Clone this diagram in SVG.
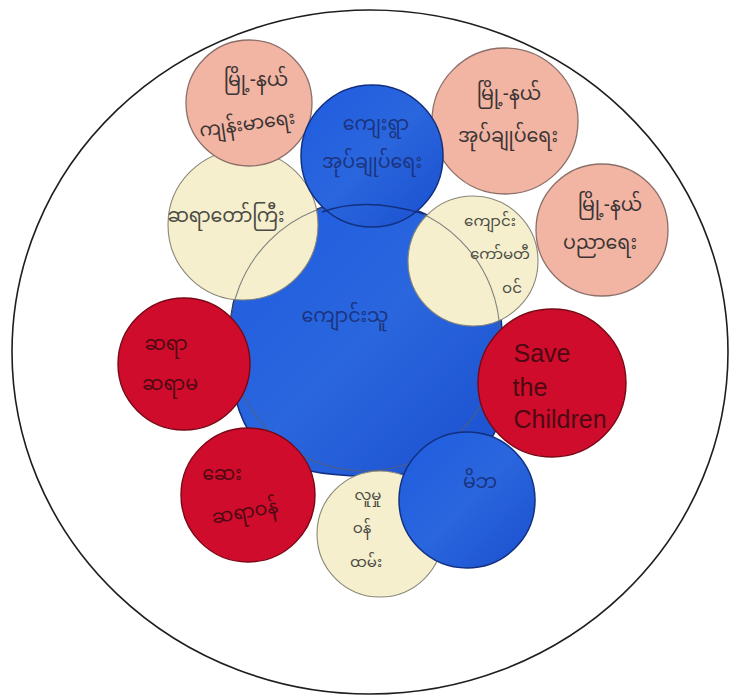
<svg xmlns="http://www.w3.org/2000/svg" width="730" height="698" viewBox="0 0 730 698">
<defs>
<style>
.outer{fill:none;stroke:#1e1e1e;stroke-width:1.6}
.pink{fill:#f2b5a3;stroke:#8d6f69;stroke-width:1.3}
.cream{fill:#f5efcd;stroke:#8a8778;stroke-width:1.1}
.blue{fill:url(#blueg);stroke:#12307f;stroke-width:1.5}
.red{fill:#cf0c2c;stroke:#7a0716;stroke-width:1.4}
.pencil{fill:none;stroke:#5b5f6a;stroke-width:1.1;opacity:0.75}
text{font-family:"Noto Sans Myanmar","Noto Sans","DejaVu Sans",sans-serif;font-size:19px;text-anchor:middle}
.sm{font-size:15px}
.tp{fill:#3b3434}
.tc{fill:#4a4a44}
.tb{fill:#1b3480}
.tr{fill:#4d0912}
.en{font-family:"Liberation Sans","DejaVu Sans",sans-serif;font-size:25px;fill:#4d0912}
</style>
<linearGradient id="blueg" x1="0" y1="0" x2="1" y2="1">
<stop offset="0" stop-color="#1f5ce0"/>
<stop offset="0.5" stop-color="#2a66dd"/>
<stop offset="1" stop-color="#1a4fcf"/>
</linearGradient>
</defs>
<rect width="730" height="698" fill="#ffffff"/>
<ellipse class="outer" cx="370" cy="352" rx="358" ry="342"/>

<g id="center-students">
<path class="blue" d="M365 201 C440 201 500 255 502 330 C506 390 510 430 475 455 C430 482 300 485 265 452 C235 422 228 380 230 330 C232 255 290 201 365 201 Z"/>
</g>
<g id="cream-left">
<circle class="cream" cx="243" cy="225" r="75"/>
<text class="tc" x="226" y="222">ဆရာတော်ကြီး</text>
</g>
<g id="cream-right">
<circle class="cream" cx="473" cy="261" r="65"/>
<text class="tc sm" x="490" y="226">ကျောင်း</text>
<text class="tc sm" x="500" y="259">ကော်မတီ</text>
<text class="tc sm" x="512" y="293">ဝင်</text>
</g>
<g id="connectors">
<circle class="pencil" cx="365" cy="336" r="135"/>
</g>
<g id="pink-health">
<circle class="pink" cx="249" cy="103" r="63"/>
<text class="tp" x="256" y="86">မြို့-နယ်</text>
<text class="tp" x="248" y="130" transform="rotate(-8 248 130)">ကျန်းမာရေး</text>
</g>
<g id="pink-admin">
<circle class="pink" cx="505" cy="121" r="73"/>
<text class="tp" x="509" y="100">မြို့-နယ်</text>
<text class="tp" x="508" y="142">အုပ်ချုပ်ရေး</text>
</g>
<g id="pink-education">
<circle class="pink" cx="602" cy="230" r="66"/>
<text class="tp" x="610" y="211">မြို့-နယ်</text>
<text class="tp" x="600" y="249">ပညာရေး</text>
</g>
<g id="blue-village">
<circle class="blue" cx="372" cy="156" r="71"/>
<text class="tb" x="376" y="130">ကျေးရွာ</text>
<text class="tb" x="372" y="168">အုပ်ချုပ်ရေး</text>
</g>
<g id="center-label">
<path d="M322 212 Q365 196 424 214" fill="none" stroke="#12307f" stroke-width="1.4"/>
<text class="tb" x="345" y="322">ကျောင်းသူ</text>
</g>
<g id="red-teachers">
<circle class="red" cx="184" cy="364" r="66"/>
<text class="tr" x="166" y="350">ဆရာ</text>
<text class="tr" x="170" y="390">ဆရာမ</text>
</g>
<g id="red-savethechildren">
<circle class="red" cx="552" cy="383" r="74"/>
<text class="en" x="542" y="362">Save</text>
<text class="en" x="530" y="396">the</text>
<text class="en" x="560" y="428">Children</text>
</g>
<g id="red-doctor">
<circle class="red" cx="248" cy="495" r="67"/>
<text class="tr" x="222" y="480">ဆေး</text>
<text class="tr" x="246" y="518" transform="rotate(-10 246 518)">ဆရာဝန်</text>
</g>
<g id="cream-bottom">
<circle class="cream" cx="380" cy="534" r="63"/>
<text class="tc sm" x="368" y="500">လူမှု</text>
<text class="tc sm" x="362" y="533">ဝန်</text>
<text class="tc sm" x="366" y="567">ထမ်း</text>
</g>
<g id="blue-parents">
<circle class="blue" cx="467" cy="500" r="68"/>
<text class="tb" x="480" y="488">မိဘ</text>
</g>
</svg>
